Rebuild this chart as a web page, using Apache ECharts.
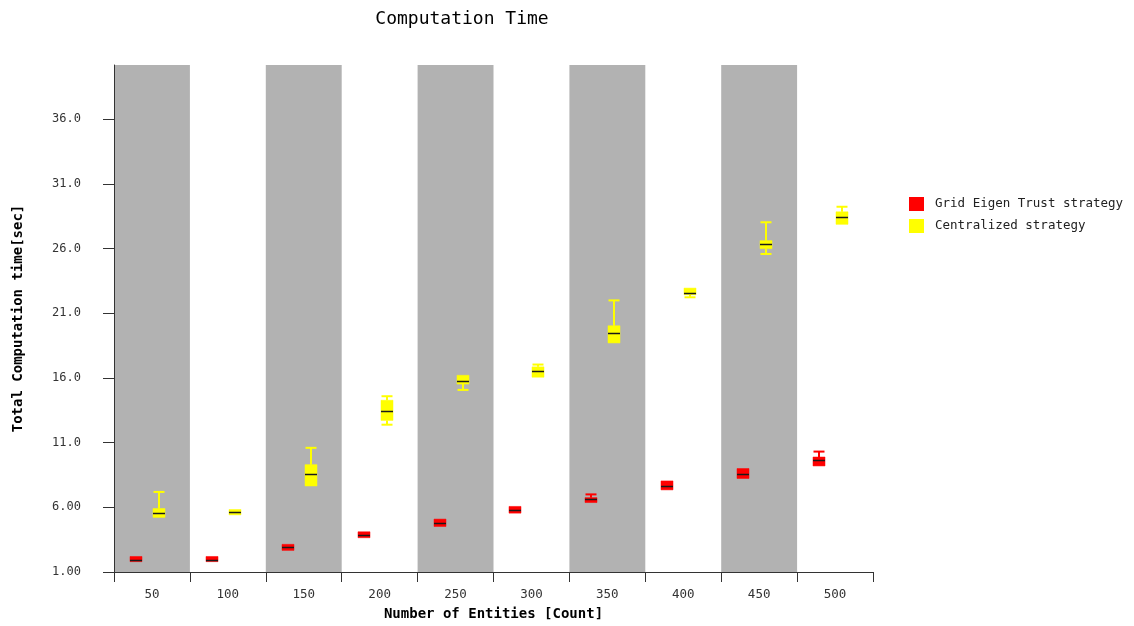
<!DOCTYPE html>
<html>
<head>
<meta charset="utf-8">
<script src="https://cdn.jsdelivr.net/npm/echarts@6/dist/echarts.min.js"></script>
<style>
html,body{margin:0;padding:0;background:#fff;}
#chart{width:1134px;height:626px;}
</style>
</head>
<body>
<div id="chart"></div>
<script>
// Categories (Number of Entities)
const categories = ['50','100','150','200','250','300','350','400','450','500'];
// Box stats per category: [low, q1, median, q3, high]
const gridEigenTrust = [
  [1.80, 1.80, 1.95, 2.20, 2.20],
  [1.80, 1.80, 1.95, 2.20, 2.20],
  [2.67, 2.67, 2.90, 3.14, 3.14],
  [3.65, 3.65, 3.88, 4.11, 4.11],
  [4.52, 4.52, 4.78, 5.09, 5.09],
  [5.55, 5.55, 5.80, 6.07, 6.07],
  [6.37, 6.37, 6.63, 6.75, 7.00],
  [7.35, 7.35, 7.68, 8.04, 8.04],
  [8.23, 8.23, 8.61, 9.00, 9.00],
  [9.20, 9.20, 9.63, 9.89, 10.31]
];
const centralized = [
  [5.22, 5.22, 5.55, 5.91, 7.19],
  [5.42, 5.42, 5.65, 5.83, 5.83],
  [7.65, 7.65, 8.58, 9.30, 10.60],
  [12.39, 12.72, 13.44, 14.28, 14.59],
  [15.08, 15.53, 15.75, 16.21, 16.21],
  [16.06, 16.06, 16.52, 16.86, 17.04],
  [18.71, 18.71, 19.50, 20.04, 22.00],
  [22.24, 22.43, 22.61, 22.95, 22.95],
  [25.59, 26.00, 26.34, 26.62, 28.04],
  [27.88, 27.88, 28.47, 28.85, 29.24]
];
const seriesNames = ['Grid Eigen Trust strategy', 'Centralized strategy'];
const yTickValues = [1, 6, 11, 16, 21, 26, 31, 36];
const yTickLabels = ['1.00', '6.00', '11.0', '16.0', '21.0', '26.0', '31.0', '36.0'];

const FONT = 'DejaVu Sans Mono';
const BOX_W = 12;

function toItems(stats) {
  return stats.map(function (s, i) { return [i].concat(s); });
}

function makeRender(offset) {
  return function (params, api) {
    const c = api.value(0);
    const low = api.coord([c, api.value(1)])[1];
    const q1 = api.coord([c, api.value(2)])[1];
    const med = api.coord([c, api.value(3)])[1];
    const q3 = api.coord([c, api.value(4)])[1];
    const high = api.coord([c, api.value(5)])[1];
    const cx = Math.round(api.coord([c, api.value(3)])[0] + offset);
    const color = api.visual('color');
    const x0 = cx - BOX_W / 2, x1 = cx + BOX_W / 2;
    const children = [];
    if (high < q3 - 0.5) {
      children.push({ type: 'line', shape: { x1: cx, y1: high, x2: cx, y2: q3 }, style: { stroke: color, lineWidth: 2 } });
      children.push({ type: 'line', shape: { x1: x0 + 0.5, y1: high, x2: x1 - 0.5, y2: high }, style: { stroke: color, lineWidth: 2 } });
    }
    if (low > q1 + 0.5) {
      children.push({ type: 'line', shape: { x1: cx, y1: q1, x2: cx, y2: low }, style: { stroke: color, lineWidth: 2 } });
      children.push({ type: 'line', shape: { x1: x0 + 0.5, y1: low, x2: x1 - 0.5, y2: low }, style: { stroke: color, lineWidth: 2 } });
    }
    children.push({ type: 'rect', shape: { x: x0, y: q3, width: BOX_W, height: Math.max(q1 - q3, 1) }, style: { fill: color, stroke: color, lineWidth: 0.5 } });
    children.push({ type: 'line', shape: { x1: x0, y1: Math.round(med) + 0.5, x2: x1, y2: Math.round(med) + 0.5 }, style: { stroke: '#1a1a1a', lineWidth: 1.5 } });
    return { type: 'group', children: children };
  };
}

const chart = echarts.init(document.getElementById('chart'), null, { renderer: 'canvas' });
chart.setOption({
  animation: false,
  backgroundColor: '#ffffff',
  title: {
    text: 'Computation Time',
    left: 457,
    top: 5,
    textAlign: 'center',
    textStyle: { fontFamily: FONT, fontSize: 18, fontWeight: 'normal', color: '#000' }
  },
  legend: {
    orient: 'vertical',
    left: 904,
    top: 192,
    itemWidth: 15,
    itemHeight: 14,
    itemGap: 8,
    icon: 'rect',
    data: seriesNames,
    textStyle: { fontFamily: FONT, fontSize: 12.5, color: '#222', padding: [0, 0, 0, 6] }
  },
  grid: { left: 114, right: 261, top: 65, bottom: 53, containLabel: false },
  xAxis: {
    type: 'category',
    data: categories,
    boundaryGap: true,
    name: 'Number of Entities [Count]',
    nameLocation: 'middle',
    nameGap: 35,
    nameTextStyle: { fontFamily: FONT, fontSize: 14, fontWeight: 'bold', color: '#000' },
    axisLine: { show: true, lineStyle: { color: '#333', width: 1 } },
    axisTick: { show: true, interval: 0, length: 10, lineStyle: { color: '#333' } },
    axisLabel: { interval: 0, margin: 16, fontFamily: FONT, fontSize: 12.5, color: '#333' },
    splitLine: { show: false },
    splitArea: { show: true, interval: 0, areaStyle: { color: ['#b2b2b2', 'rgba(255,255,255,0)'] } }
  },
  yAxis: {
    type: 'value',
    min: 1,
    max: 40.2,
    name: 'Total Computation time[sec]',
    nameLocation: 'middle',
    nameGap: 89,
    nameRotate: 90,
    nameTextStyle: { fontFamily: FONT, fontSize: 14, fontWeight: 'bold', color: '#000' },
    axisLine: { show: true, lineStyle: { color: '#333', width: 1 } },
    axisTick: { show: true, length: 11, customValues: yTickValues, lineStyle: { color: '#333' } },
    axisLabel: {
      margin: 33,
      customValues: yTickValues,
      fontFamily: FONT, fontSize: 12, color: '#333',
      formatter: function (v) {
        const i = yTickValues.indexOf(v);
        return i >= 0 ? yTickLabels[i] : '';
      }
    },
    splitLine: { show: false }
  },
  series: [
    {
      name: seriesNames[0],
      type: 'custom',
      renderItem: makeRender(-16),
      itemStyle: { color: '#ff0000' },
      encode: { x: 0, y: [1, 2, 3, 4, 5] },
      data: toItems(gridEigenTrust),
      clip: true,
      z: 5
    },
    {
      name: seriesNames[1],
      type: 'custom',
      renderItem: makeRender(7),
      itemStyle: { color: '#ffff00' },
      encode: { x: 0, y: [1, 2, 3, 4, 5] },
      data: toItems(centralized),
      clip: true,
      z: 5
    }
  ]
});
</script>
</body>
</html>
